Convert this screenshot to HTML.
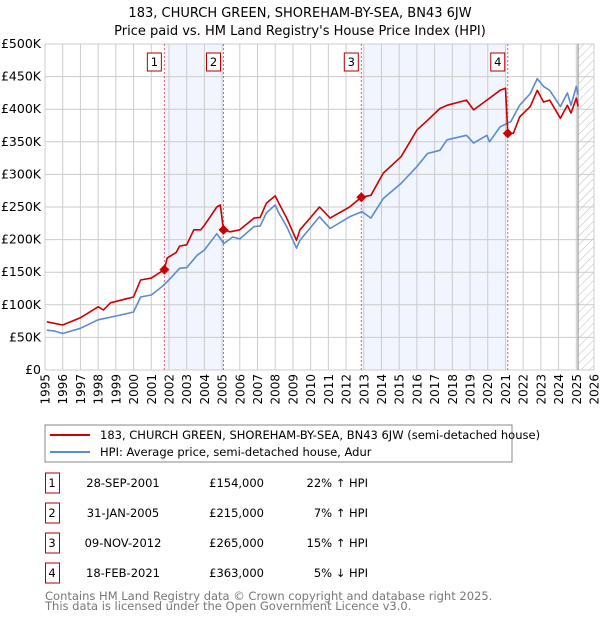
<!DOCTYPE html>
<html><head><meta charset="utf-8"><style>
body{margin:0;background:#fff;font-family:"DejaVu Sans","Liberation Sans",sans-serif;}
svg text{font-family:"DejaVu Sans","Liberation Sans",sans-serif;}
</style></head><body>
<svg id="chart" width="600" height="620" viewBox="0 0 600 620">
<defs><pattern id="hatch" width="6" height="6" patternUnits="userSpaceOnUse" patternTransform="rotate(45)"><line x1="0" y1="0" x2="0" y2="6" stroke="#bbb" stroke-width="1"/></pattern></defs>
<text x="300" y="17" text-anchor="middle" font-size="13">183, CHURCH GREEN, SHOREHAM-BY-SEA, BN43 6JW</text>
<text x="300" y="35" text-anchor="middle" font-size="13">Price paid vs. HM Land Registry's House Price Index (HPI)</text>
<g id="plot"></g>
<rect x="45" y="425" width="467" height="37" fill="none" stroke="#888"/>
<line x1="50" y1="435" x2="90" y2="435" stroke="#cc0000" stroke-width="2"/>
<text x="100" y="439" font-size="11.5">183, CHURCH GREEN, SHOREHAM-BY-SEA, BN43 6JW (semi-detached house)</text>
<line x1="50" y1="452" x2="90" y2="452" stroke="#5b8bd0" stroke-width="2"/>
<text x="100" y="456" font-size="11.5">HPI: Average price, semi-detached house, Adur</text>
<g id="table" font-size="11.5"></g>
<text x="45" y="600" font-size="11.5" fill="#777">Contains HM Land Registry data © Crown copyright and database right 2025.</text>
<text x="45" y="610" font-size="11.5" fill="#777">This data is licensed under the Open Government Licence v3.0.</text>
</svg>
<script>
const hpiYears=[1995.1,1995.5,1996.0,1997.0,1998.0,1999.05,2000.0,2000.4,2001.0,2001.7,2002.1,2002.6,2003.0,2003.6,2004.0,2004.7,2005.1,2005.6,2006.0,2006.8,2007.15,2007.5,2008.0,2008.2,2008.65,2009.2,2009.4,2010.5,2011.1,2012.2,2012.9,2013.4,2014.1,2015.1,2016.0,2016.6,2017.3,2017.7,2018.8,2019.2,2019.95,2020.1,2020.7,2021.3,2021.8,2022.4,2022.8,2023.15,2023.5,2024.1,2024.5,2024.7,2025.0,2025.1];
const hpiValues=[61,60,56,64,77,83,89,112,115,130,141,156,157,176,184,209,194,204,201,220,221,241,253,241,220,187,199,235,217,235,243,233,263,286,312,332,337,353,360,348,360,350,373,381,406,424,447,435,429,404,425,406,435,422];
const priceYears=[1995.1,1996.0,1997.0,1998.0,1998.3,1998.7,2000.0,2000.4,2001.0,2001.74,2001.9,2002.4,2002.6,2003.0,2003.4,2003.8,2004.0,2004.7,2004.9,2005.08,2005.45,2006.0,2006.8,2007.15,2007.5,2008.0,2008.2,2008.65,2009.2,2009.4,2010.5,2011.1,2012.2,2012.86,2013.4,2014.1,2015.1,2016.0,2016.6,2017.3,2017.7,2018.8,2019.2,2019.95,2020.7,2021.0,2021.13,2021.45,2021.8,2022.4,2022.8,2023.15,2023.5,2024.1,2024.5,2024.7,2025.0,2025.1];
const priceValues=[74,69,80,97,92,103,112,138,141,154,172,180,190,192,215,215,222,250,253,215,212,215,233,234,256,267,256,233,199,215,250,233,250,265,268,302,327,368,383,401,406,414,399,414,429,432,363,363,388,404,429,411,414,386,406,394,417,404];
const saleLabels=["1","2","3","4"];
const saleYears=[2001.74,2005.08,2012.86,2021.13];
const salePrices=[154,215,265,363];
const saleDates=["28-SEP-2001","31-JAN-2005","09-NOV-2012","18-FEB-2021"];
const salePriceText=["£154,000","£215,000","£265,000","£363,000"];
const saleHpiText=["22% ↑ HPI","7% ↑ HPI","15% ↑ HPI","5% ↓ HPI"];
const yTicks=[0,50,100,150,200,250,300,350,400,450,500];
const yTickLabels=["£0","£50K","£100K","£150K","£200K","£250K","£300K","£350K","£400K","£450K","£500K"];
const xTicks=[1995,1996,1997,1998,1999,2000,2001,2002,2003,2004,2005,2006,2007,2008,2009,2010,2011,2012,2013,2014,2015,2016,2017,2018,2019,2020,2021,2022,2023,2024,2025,2026];

const L=45,R=594,T=44,B=370,X0=1995,X1=2026,YMAX=500;
const x=v=>L+(v-X0)/(X1-X0)*(R-L);
const y=v=>B-v/YMAX*(B-T);
const NS="http://www.w3.org/2000/svg";
const plot=document.getElementById('plot');
function mk(tag,attrs,parent){const e=document.createElementNS(NS,tag);for(const k in attrs)e.setAttribute(k,attrs[k]);(parent||plot).appendChild(e);return e;}

for(let i=0;i<4;i+=2){
  const r=mk('rect',{x:x(saleYears[i]),y:T,width:x(saleYears[i+1])-x(saleYears[i]),height:B-T,fill:'#eef3fc',opacity:0.8});
  
  
}
const h=mk('rect',{x:x(2025.1),y:T,width:R-x(2025.1),height:B-T,fill:'url(#hatch)'});


yTicks.forEach((t,i)=>{
  const g=mk('line',{x1:L,x2:R,y1:y(t),y2:y(t),stroke:'#ccc','stroke-width':1});
  
  
  const tx=mk('text',{x:L-4,y:y(t)+4,'text-anchor':'end','font-size':12.5});
  tx.textContent=yTickLabels[i];
  
  
});
xTicks.forEach(t=>{
  const g=mk('line',{x1:x(t),x2:x(t),y1:T,y2:B,stroke:'#ccc','stroke-width':1});
  
  
  const tx=mk('text',{x:0,y:0,'text-anchor':'end','font-size':12,transform:`translate(${(x(t)+4.5).toFixed(1)},${B+4}) rotate(-90)`});
  tx.textContent=t;
  
  
});
const edge=mk('line',{x1:x(2025.1),x2:x(2025.1),y1:T,y2:B,stroke:'#999','stroke-width':1.2});


saleYears.forEach((s,i)=>{
  const l=mk('line',{x1:x(s),x2:x(s),y1:T,y2:B,stroke:'#e06070','stroke-width':1,'stroke-dasharray':'2,2'});
  
  
  const bx=mk('rect',{x:x(s)-17,y:53,width:14,height:18,fill:'#fff',stroke:'#b00000'});
  
  
  const t=mk('text',{x:x(s)-10,y:66,'text-anchor':'middle','font-size':11.5});
  t.textContent=saleLabels[i];
  
  
});
function line(xs,vs,col,name){
  const p=mk('path',{d:xs.map((v,i)=>(i?'L':'M')+x(v).toFixed(1)+' '+y(vs[i]).toFixed(1)).join(' '),fill:'none',stroke:col,'stroke-width':1.6,'stroke-linejoin':'round'});
  
  
}
line(hpiYears,hpiValues,'#5b8bd0','hpi-line');
line(priceYears,priceValues,'#cc0000','price-line');
saleYears.forEach((s,i)=>{
  const cx=x(s),cy=y(salePrices[i]);
  const d=mk('path',{d:`M${cx} ${cy-5}L${cx+5} ${cy}L${cx} ${cy+5}L${cx-5} ${cy}Z`,fill:'#cc0000'});
  
  
});
const tb=document.getElementById('table');
saleLabels.forEach((lab,i)=>{
  const cy=483+i*30;
  const b=mk('rect',{x:45.5,y:cy-10,width:14,height:20,fill:'#fff',stroke:'#b00000'},tb);
  
  
  const cells=[[52,lab,'middle','table-row-number'],[123,saleDates[i],'middle','table-row-date'],[264,salePriceText[i],'end','table-row-price'],[368,saleHpiText[i],'end','table-row-hpi-diff']];
  cells.forEach(c=>{
    const t=mk('text',{x:c[0],y:cy+4,'text-anchor':c[2]},tb);
    t.textContent=c[1];
    
    
  });
});
</script>
</body></html>
